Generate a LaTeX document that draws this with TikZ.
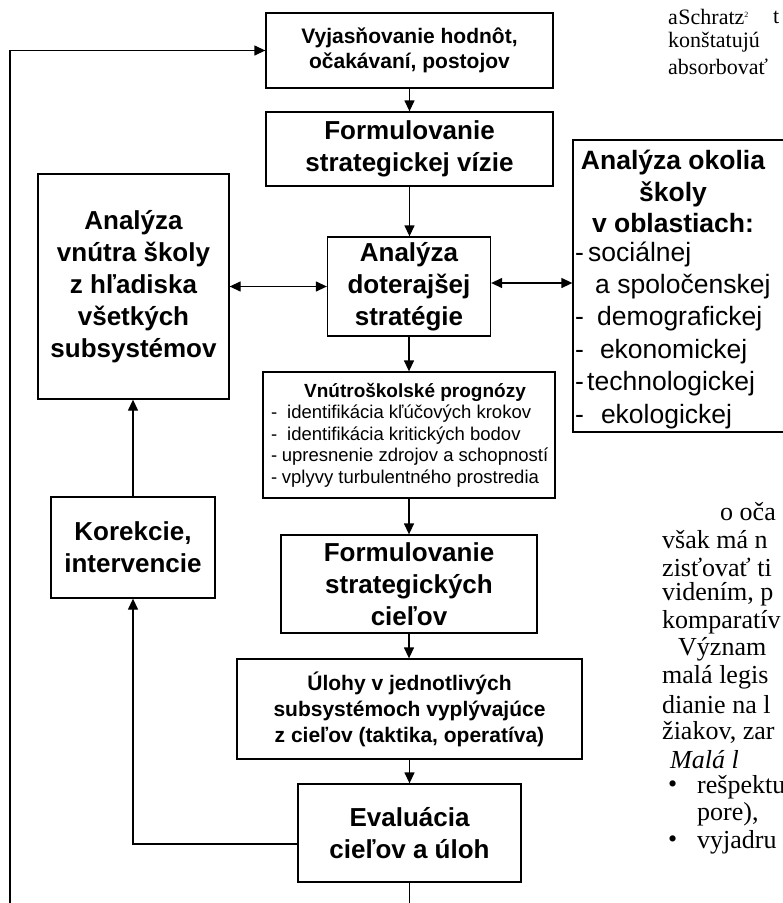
\documentclass[tikz,border=0pt]{standalone}
\usepackage{fontspec}
\setmainfont{Liberation Sans}
\newfontfamily\proseserif{Liberation Serif}
\usetikzlibrary{arrows.meta,calc}
\begin{document}
\begin{tikzpicture}[x=1pt,y=-1pt,
  box/.style={draw, line width=1.3pt, inner sep=0pt, align=center},
  big/.style={font=\fontsize{26}{32}\selectfont\bfseries},
  mid/.style={font=\fontsize{21}{24.5}\selectfont\bfseries},
  conn/.style={line width=1.3pt, -{Triangle[length=11pt,width=10pt]}},
  dconn/.style={line width=1.3pt, {Triangle[length=11pt,width=10pt]}-{Triangle[length=11pt,width=10pt]}},
  prose/.style={font=\fontsize{26}{28}\selectfont\proseserif, anchor=west, inner sep=0pt},
  prosetop/.style={font=\fontsize{22}{25}\selectfont\proseserif, anchor=west, inner sep=0pt},
]
\useasboundingbox (0,0) rectangle (783,903);
\clip (0,0) rectangle (783,903);

% boxes
\node[box,mid,minimum width=287pt,minimum height=75pt] (b1) at (409.5,50.5) {Vyjasňovanie hodnôt,\\očakávaní, postojov};
\node[box,big,minimum width=287pt,minimum height=74pt] (b2) at (409.5,149) {Formulovanie\\strategickej vízie};
\node[box,big,minimum width=163pt,minimum height=99pt] (b3) at (409,286.5) {Analýza\\doterajšej\\stratégie};
\node[box,big,minimum width=191pt,minimum height=225pt] (b4) at (133.5,286.5) {Analýza\\vnútra školy\\z hľadiska\\všetkých\\subsystémov};
\node[box,minimum width=227pt,minimum height=292pt] (b5) at (686.5,286) {};
\node[font=\fontsize{26.5}{31.5}\selectfont\bfseries, align=center, inner sep=0pt] (b5h) at (673,191.5) {Analýza okolia\\školy\\v oblastiach:};
\node[font=\fontsize{26.5}{32.4}\selectfont, align=left, anchor=west, inner sep=0pt] (b5l) at (575,335) {-\hspace*{4.2pt}sociálnej\\\hspace*{20pt}a spoločenskej\\-\hspace*{13.2pt}demografickej\\-\hspace*{16pt}ekonomickej\\-\hspace*{3.2pt}technologickej\\-\hspace*{17pt}ekologickej};

\node[box,minimum width=292pt,minimum height=126pt] (b6) at (409,435) {};
\node[font=\fontsize{19}{21}\selectfont\bfseries, inner sep=0pt] (b6t) at (415,392) {Vnútroškolské prognózy};
\node[font=\fontsize{18.5}{21.5}\selectfont, align=left, anchor=west, inner sep=0pt] (b6l) at (271,446) {-\hspace*{9.8pt}identifikácia kľúčových krokov\\-\hspace*{9.8pt}identifikácia kritických bodov\\-\hspace*{4.5pt}upresnenie zdrojov a schopností\\-\hspace*{4.5pt}vplyvy turbulentného prostredia};

\node[box,big,minimum width=256pt,minimum height=98pt] (b7) at (409,584) {Formulovanie\\strategických\\cieľov};
\node[box,font=\fontsize{21}{26}\selectfont\bfseries,minimum width=345pt,minimum height=100pt] (b8) at (409.5,709) {Úlohy v jednotlivých\\subsystémoch vyplývajúce\\z cieľov (taktika, operatíva)};
\node[box,big,minimum width=223pt,minimum height=98pt] (b9) at (409.5,833) {Evaluácia\\cieľov a úloh};
\node[box,big,minimum width=164pt,minimum height=101pt] (b10) at (133,547.5) {Korekcie,\\intervencie};

% connectors
\draw[conn] (b1.south) -- (b1.south |- b2.north);
\draw[conn] (b2.south) -- (b2.south |- b3.north);
\draw[conn] (b3.south) -- (b3.south |- b6.north);
\draw[conn] (b6.south) -- (b6.south |- b7.north);
\draw[conn] (b7.south) -- (b7.south |- b8.north);
\draw[conn] (b8.south) -- (b8.south |- b9.north);
\draw[conn] (b10.north) -- (b10.north |- b4.south);
\draw[conn] ([yshift=-11pt]b9.west) -| (b10.south);
\draw[dconn] (b4.east) -- (b4.east -| b3.west);
\draw[dconn] ([yshift=3.5pt]b3.east) -- ([yshift=3.5pt]b3.east -| b5.west);
\coordinate (lp) at (10,940);
\draw[conn] (b9.south) -- (b9.south |- lp) -- (lp) |- (b1.west);

% surrounding page text
\node[prosetop] (t1) at (668,17) {a\hspace{0.5pt}Schratz\textsuperscript{\footnotesize 2}};
\node[prosetop] (t1b) at (773,17) {t};
\node[prosetop] (t2) at (668,42) {konštatujú};
\node[prosetop] (t3) at (668,67) {absorbovať};
\node[prose] (t4) at (720,512) {o oča};
\node[prose] (t5) at (662,539.5) {však má n};
\node[prose] (t6) at (662,567) {zisťovať ti};
\node[prose] (t7) at (662,594.5) {videním, p};
\node[prose] (t8) at (662,622) {komparatív};
\node[prose] (t9) at (678,649.5) {Význam};
\node[prose] (t10) at (662,677) {malá legis};
\node[prose] (t11) at (662,704.5) {dianie na l};
\node[prose] (t12) at (662,732) {žiakov, zar};
\node[prose] (t13) at (670,759.5) {\itshape Malá l};
\node[prose] (t14) at (668,787) {•};
\node[prose] (t14b) at (697,787) {rešpektu};
\node[prose] (t15) at (697,814.5) {pore),};
\node[prose] (t16) at (668,842) {•};
\node[prose] (t16b) at (697,842) {vyjadru};
\end{tikzpicture}
\end{document}
